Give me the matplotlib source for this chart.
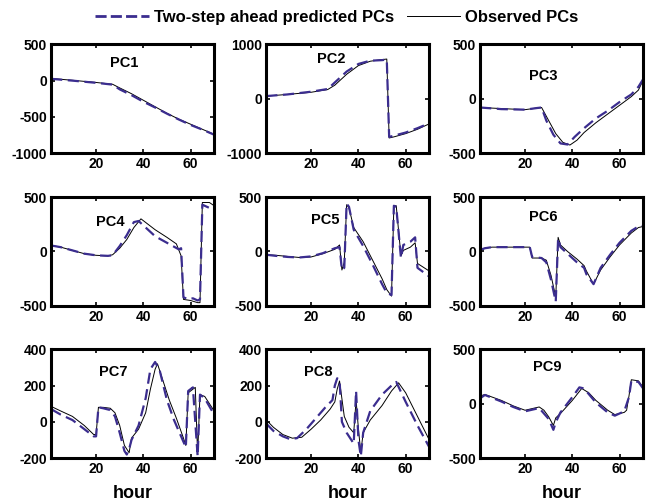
import matplotlib
matplotlib.use("Agg")
import matplotlib.pyplot as plt
from matplotlib.lines import Line2D

plt.rcParams['font.family'] = ['Liberation Sans', 'DejaVu Sans']
plt.rcParams['font.weight'] = 'bold'
plt.rcParams['axes.unicode_minus'] = False

# observed / predicted PCs (hour, value) keypoints
pc1_obs_x = [1, 10, 20, 27, 30, 35, 40, 45, 50, 55, 60, 65, 70]
pc1_obs_y = [30, 5, -25, -50, -100, -180, -270, -360, -450, -530, -600, -670, -740]
pc1_pred_x = [1, 10, 20, 27, 30, 35, 40, 45, 50, 55, 60, 65, 70]
pc1_pred_y = [25, 0, -30, -55, -120, -200, -290, -370, -455, -535, -610, -675, -745]

pc2_obs_x = [1, 10, 20, 27, 30, 35, 40, 45, 50, 52, 53, 55, 60, 65, 70]
pc2_obs_y = [50, 80, 120, 170, 250, 450, 610, 690, 720, 730, -720, -700, -640, -560, -460]
pc2_pred_x = [1, 10, 20, 27, 30, 35, 40, 45, 50, 52, 53, 54, 60, 65, 70]
pc2_pred_y = [50, 80, 130, 180, 300, 500, 640, 700, 710, 720, -700, -690, -620, -540, -450]

pc3_obs_x = [1, 10, 20, 25, 27, 30, 33, 36, 39, 42, 45, 50, 55, 60, 65, 68, 70]
pc3_obs_y = [-80, -90, -100, -85, -80, -200, -320, -400, -425, -380, -310, -220, -140, -60, 20, 80, 170]
pc3_pred_x = [1, 10, 20, 25, 27, 29, 32, 35, 38, 41, 45, 50, 55, 60, 65, 68, 70]
pc3_pred_y = [-80, -95, -100, -85, -80, -200, -330, -410, -420, -350, -270, -180, -110, -30, 40, 110, 180]

pc4_obs_x = [1, 5, 10, 15, 20, 25, 27, 30, 33, 36, 39, 42, 45, 50, 54, 56, 57, 60, 63, 64, 65, 68, 70]
pc4_obs_y = [55, 40, 10, -20, -35, -40, -30, 30, 110, 220, 300, 250, 200, 130, 70, -40, -440, -450, -470, -470, 450, 450, 420]
pc4_pred_x = [1, 5, 10, 15, 20, 25, 27, 30, 33, 36, 38, 41, 45, 50, 55, 56, 57, 59, 61, 63, 64, 65, 68, 70]
pc4_pred_y = [55, 40, 10, -20, -35, -40, -35, 50, 150, 270, 280, 220, 140, 80, 20, 30, -420, -440, -430, -450, -440, 430, 400, 380]

pc5_obs_x = [1, 5, 10, 15, 20, 25, 30, 32, 33, 34, 35, 36, 38, 42, 46, 50, 52, 54, 55, 56, 58, 59, 62, 64, 65, 70]
pc5_obs_y = [-30, -35, -45, -55, -50, -20, 20, 60, -170, -100, 430, 400, 220, 90, -80, -250, -350, -410, 420, 420, -40, 10, 40, 80, -110, -180]
pc5_pred_x = [1, 5, 10, 15, 20, 25, 30, 32, 33, 34, 35, 36, 38, 42, 46, 50, 52, 54, 55, 56, 58, 59, 62, 64, 65, 70]
pc5_pred_y = [-30, -40, -50, -55, -45, -15, 30, 40, -170, -150, 440, 410, 200, 50, -120, -300, -380, -400, 420, 410, -60, 60, 90, 130, -150, -230]

pc6_obs_x = [1, 3, 6, 10, 15, 20, 22, 23, 27, 29, 31, 33, 34, 35, 38, 42, 45, 46, 49, 52, 56, 60, 65, 68, 70]
pc6_obs_y = [10, 30, 40, 40, 40, 40, 40, -60, -60, -80, -220, -420, 130, 60, 0, -70, -130, -180, -300, -170, -50, 60, 170, 220, 230]
pc6_pred_x = [1, 3, 6, 10, 15, 20, 22, 23, 27, 29, 31, 33, 34, 35, 38, 42, 45, 46, 49, 52, 56, 60, 65, 68, 70]
pc6_pred_y = [15, 30, 40, 40, 40, 40, 40, -50, -60, -100, -260, -460, 120, 40, -20, -100, -150, -210, -300, -150, -30, 80, 190, 230, 235]

pc7_obs_x = [1, 5, 10, 15, 19, 20, 21, 23, 26, 28, 30, 32, 34, 35, 38, 41, 43, 45, 46, 48, 51, 54, 57, 58, 59, 62, 63, 64, 66, 70]
pc7_obs_y = [85, 60, 30, -20, -70, -70, 80, 80, 75, 50, -20, -130, -170, -90, -40, 50, 180, 290, 320, 240, 120, 20, -90, -130, 160, 190, -180, 150, 140, 60]
pc7_pred_x = [1, 5, 10, 15, 19, 20, 21, 23, 26, 28, 30, 32, 33, 34, 35, 38, 41, 43, 45, 47, 50, 53, 56, 58, 59, 61, 63, 64, 66, 70]
pc7_pred_y = [70, 40, 10, -40, -80, -80, 80, 75, 65, 30, -60, -160, -180, -150, -100, -20, 130, 290, 330, 280, 120, 10, -80, -140, 170, 190, -190, 150, 130, 40]

pc8_obs_x = [1, 4, 8, 12, 16, 20, 24, 28, 30, 31, 32, 34, 36, 38, 39, 40, 41, 42, 45, 50, 54, 57, 60, 65, 70]
pc8_obs_y = [10, -30, -70, -90, -85, -40, 10, 70, 110, 180, 225, 30, -30, -60, 120, -40, -170, -60, 10, 90, 170, 215, 160, 30, -100]
pc8_pred_x = [1, 4, 8, 11, 14, 18, 22, 26, 29, 30, 31, 32, 33, 35, 38, 39, 40, 41, 42, 45, 50, 54, 56, 60, 65, 70]
pc8_pred_y = [-10, -50, -80, -95, -90, -40, 20, 80, 120, 200, 240, 230, 0, -60, -120, 170, -100, -190, -60, 60, 150, 200, 220, 110, -20, -140]

pc9_obs_x = [1, 3, 10, 15, 20, 22, 26, 28, 30, 32, 33, 35, 40, 44, 47, 50, 55, 58, 62, 63, 64, 65, 68, 70]
pc9_obs_y = [70, 85, 30, -20, -60, -50, -30, -60, -120, -200, -130, -90, 30, 140, 100, 30, -60, -100, -80, -60, 70, 220, 210, 150]
pc9_pred_x = [1, 3, 10, 15, 20, 22, 26, 28, 30, 32, 33, 35, 40, 43, 45, 50, 55, 58, 62, 64, 65, 68, 70]
pc9_pred_y = [50, 80, 20, -30, -70, -60, -40, -90, -140, -240, -170, -80, 60, 150, 140, 10, -80, -110, -70, 60, 210, 200, 140]

titles = ['PC1', 'PC2', 'PC3', 'PC4', 'PC5', 'PC6', 'PC7', 'PC8', 'PC9']
obs = [(pc1_obs_x, pc1_obs_y), (pc2_obs_x, pc2_obs_y), (pc3_obs_x, pc3_obs_y),
       (pc4_obs_x, pc4_obs_y), (pc5_obs_x, pc5_obs_y), (pc6_obs_x, pc6_obs_y),
       (pc7_obs_x, pc7_obs_y), (pc8_obs_x, pc8_obs_y), (pc9_obs_x, pc9_obs_y)]
pred = [(pc1_pred_x, pc1_pred_y), (pc2_pred_x, pc2_pred_y), (pc3_pred_x, pc3_pred_y),
        (pc4_pred_x, pc4_pred_y), (pc5_pred_x, pc5_pred_y), (pc6_pred_x, pc6_pred_y),
        (pc7_pred_x, pc7_pred_y), (pc8_pred_x, pc8_pred_y), (pc9_pred_x, pc9_pred_y)]
ylims = [(-1000, 500), (-1000, 1000), (-500, 500), (-500, 500), (-500, 500),
         (-500, 500), (-200, 400), (-200, 400), (-500, 500)]
yticks = [[-1000, -500, 0, 500], [-1000, 0, 1000], [-500, 0, 500], [-500, 0, 500],
          [-500, 0, 500], [-500, 0, 500], [-200, 0, 200, 400], [-200, 0, 200, 400],
          [-500, 0, 500]]
xticks = [20, 40, 60]
# label positions inside each panel (axes fraction)
title_pos = [(0.45, 0.83), (0.40, 0.87), (0.39, 0.71), (0.36, 0.77), (0.36, 0.79),
             (0.39, 0.82), (0.38, 0.79), (0.32, 0.79), (0.41, 0.84)]

pred_color = '#3b2d8f'

fig = plt.figure(figsize=(6.48, 5.04), dpi=100)
lefts = [0.079, 0.411, 0.741]
bottoms = [0.696, 0.393, 0.091]
w, h = 0.2515, 0.216

for i in range(9):
    r, c = divmod(i, 3)
    ax = fig.add_axes([lefts[c], bottoms[r], w, h])
    ax.plot(obs[i][0], obs[i][1], color='black', lw=0.7)
    ax.plot(pred[i][0], pred[i][1], color=pred_color, lw=1.6, ls=(0, (5, 2.5)))
    ax.set_xlim(1, 70)
    ax.set_ylim(*ylims[i])
    ax.set_xticks(xticks)
    ax.set_yticks(yticks[i])
    ax.tick_params(direction='in', top=True, right=True, length=3, width=1.2,
                   labelsize=10, pad=3)
    for lab in ax.get_xticklabels() + ax.get_yticklabels():
        lab.set_fontweight('bold')
    for s in ax.spines.values():
        s.set_linewidth(2.2)
    ax.text(title_pos[i][0], title_pos[i][1], titles[i], transform=ax.transAxes,
            ha='center', va='center', fontsize=10.5, fontweight='bold')
    if r == 2:
        ax.set_xlabel('hour', fontsize=13, fontweight='bold', labelpad=6)

handles = [Line2D([], [], color=pred_color, lw=2, ls=(0, (4, 1.5))),
           Line2D([], [], color='black', lw=0.7)]
fig.legend(handles, ['Two-step ahead predicted PCs', 'Observed PCs'],
           loc='center', bbox_to_anchor=(0.52, 0.965), ncol=2, frameon=False,
           prop={'weight': 'bold', 'size': 12}, handlelength=3.2,
           handletextpad=0.3, columnspacing=0.8)

fig.savefig('out.png', dpi=100)
